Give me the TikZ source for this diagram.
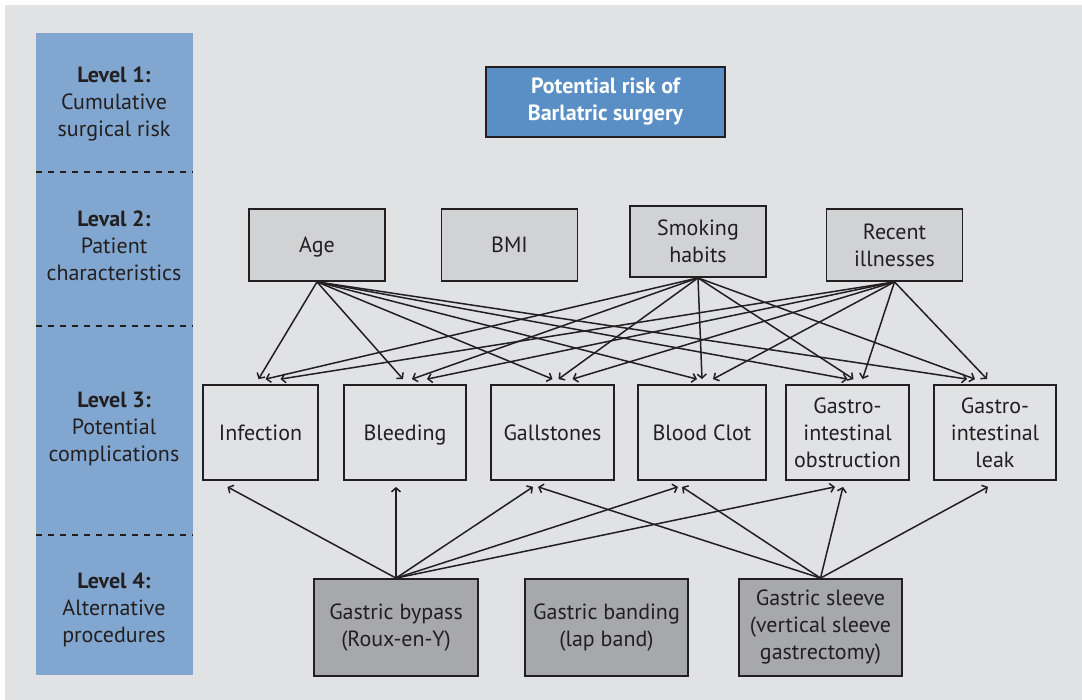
\documentclass[tikz,border=0pt]{standalone}
\usepackage{fontspec}
\setmainfont{PT Sans}
\usepackage{xcolor}
\usepackage{tikz}
\usetikzlibrary{arrows.meta, positioning}

\definecolor{bggray}{HTML}{E1E2E4}
\definecolor{levelblue}{HTML}{81A7D1}
\definecolor{riskblue}{HTML}{5A8FC6}
\definecolor{charfill}{HTML}{D1D2D4}
\definecolor{procfill}{HTML}{A7A8AC}
\definecolor{ink}{HTML}{231F20}

\begin{document}
\begin{tikzpicture}[x=1pt, y=-1pt,
  every node/.style={font=\fontsize{22}{27}\selectfont, text=ink, align=center, inner sep=0pt},
  box/.style={draw=ink, line width=1.8pt},
  oneline/.style={align=none, text height=16pt, text depth=0pt},
  riskbox/.style={box, fill=riskblue, text=white, font=\fontsize{22}{27}\selectfont\bfseries,
    minimum width=239pt, minimum height=70pt},
  charbox/.style={box, fill=charfill, minimum width=136pt, minimum height=72pt},
  compbox/.style={box, minimum height=95pt},
  procbox/.style={box, fill=procfill, minimum width=164pt, minimum height=97pt},
  levsep/.style={ink, line width=1.5pt, dash pattern=on 6pt off 6pt},
  arrow/.style={->, ink, line width=1.5pt},
  >={Straight Barb[length=4pt,width=9pt]}]
\useasboundingbox (0,0) rectangle (1082,700);
\fill[white] (0,0) rectangle (1082,700);
\fill[bggray] (5,5) rectangle (1082,700);

% level column
\fill[levelblue] (36,33) rectangle (193,675);
\foreach \y in {172,326,535}
  \draw[levsep] (36,\y) -- (193,\y);
\node (lev1) at (114,104) {\textbf{Level 1:}\\Cumulative\\surgical risk};
\node (lev2) at (114,246) {\textbf{Leval 2:}\\Patient\\characteristics};
\node (lev3) at (114,429) {\textbf{Level 3:}\\Potential\\complications};
\node (lev4) at (114,610) {\textbf{Level 4:}\\Alternative\\procedures};

% level 1
\node[riskbox] (risk) at (605.5,102) {Potential risk of\\Barlatric surgery};

% level 2
\node[charbox, oneline] (age) at (317,245) {Age};
\node[charbox, oneline] (bmi) at (509.5,245) {BMI};
\node[charbox, minimum height=71pt] (smoke) at (698,241.5) {Smoking\\habits};
\node[charbox] (recent) at (894.5,245) {Recent\\illnesses};

% level 3
\node[compbox, oneline, minimum width=115pt] (inf) at (260.5,432.5) {Infection};
\node[compbox, oneline, minimum width=122pt] (blee) at (405,432.5) {Bleeding};
\node[compbox, oneline, minimum width=123pt] (gall) at (552.5,432.5) {Gallstones};
\node[compbox, oneline, minimum width=128pt] (clot) at (702,432.5) {Blood Clot};
\node[compbox, minimum width=123pt] (obst) at (847.5,432.5) {Gastro-\\intestinal\\obstruction};
\node[compbox, minimum width=122pt] (leak) at (995,432.5) {Gastro-\\intestinal\\leak};

% level 4
\node[procbox] (bypass) at (396,627.5) {Gastric bypass\\(Roux-en-Y)};
\node[procbox, minimum width=163pt] (band) at (606.5,627.5) {Gastric banding\\(lap band)};
\node[procbox, minimum width=163pt] (sleeve) at (820.5,627.5) {Gastric sleeve\\(vertical sleeve\\gastrectomy)};

% patient characteristics -> complications
\foreach \t/\a/\s/\r in {inf/-2/5/20, blee/-2/7/22, gall/0/6/20, clot/-5/0/11, obst/0/6/15, leak/-28/-20/-8} {
  \draw[arrow] (age.south) -- ([xshift=\a pt, yshift=5pt]\t.north);
  \draw[arrow] (smoke.south) -- ([xshift=\s pt, yshift=5pt]\t.north);
  \draw[arrow] (recent.south) -- ([xshift=\r pt, yshift=5pt]\t.north);
}

% procedures -> complications
\foreach \t/\o in {inf/-33, blee/-9, gall/-19.5, clot/-24, obst/-12.5}
  \draw[arrow] (bypass.north) -- ([xshift=\o pt, yshift=-6pt]\t.south);
\foreach \t/\o in {gall/-14.5, clot/-20, obst/-4.5, leak/-7}
  \draw[arrow] (sleeve.north) -- ([xshift=\o pt, yshift=-6pt]\t.south);
\end{tikzpicture}
\end{document}
